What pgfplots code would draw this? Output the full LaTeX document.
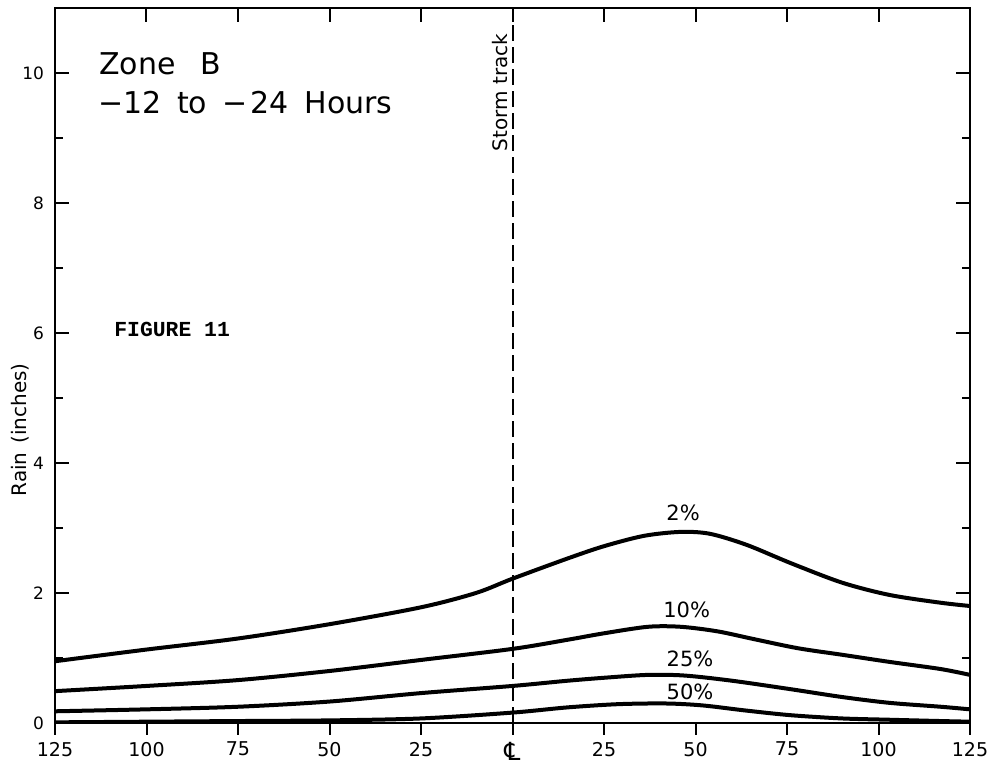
\documentclass[border=0pt]{standalone}
\usepackage{fontspec}
\setmainfont{DejaVu Sans}
\newfontfamily\typew{Liberation Mono}
\usepackage{pgfplots}
\pgfplotsset{compat=1.18}
\usetikzlibrary{calc}
\pgfplotstableread{
x y
-125 0.95
-100 1.13
-75 1.30
-50 1.52
-25 1.78
-10 2.00
0 2.22
15 2.53
25 2.72
36 2.88
46 2.94
54 2.91
64 2.74
76 2.46
90 2.16
103 1.97
117 1.85
125 1.80
}\twopct
\pgfplotstableread{
x y
-125 0.49
-100 0.57
-75 0.66
-50 0.80
-25 0.97
0 1.14
15 1.28
25 1.38
37 1.48
46 1.48
56 1.41
66 1.29
78 1.15
90 1.05
103 0.94
117 0.83
125 0.74
}\tenpct
\pgfplotstableread{
x y
-125 0.18
-100 0.21
-75 0.25
-50 0.33
-25 0.46
0 0.57
15 0.65
26 0.70
37 0.74
47 0.73
60 0.65
76 0.52
90 0.40
103 0.31
117 0.25
125 0.21
}\twentyfivepct
\pgfplotstableread{
x y
-125 0.01
-100 0.02
-75 0.03
-50 0.04
-25 0.07
0 0.16
15 0.24
29 0.29
42 0.30
52 0.27
64 0.19
76 0.12
90 0.07
103 0.05
117 0.03
125 0.02
}\fiftypct
\begin{document}
\begin{tikzpicture}
\begin{axis}[name=ax,
  scale only axis, width=457.5pt, height=357.5pt,
  xmin=-125, xmax=125, ymin=0, ymax=11,
  axis line style={line width=1.2pt},
  tick align=inside,
  xtick={-125,-100,...,125}, xticklabels={}, xtick pos=right,
  ytick={0,2,...,10}, minor ytick={1,3,...,9}, ytick pos=both,
  major tick length=7pt, minor tick length=4pt,
  every tick/.style={line width=1pt, black},
  /pgf/number format/assume math mode=true,
  yticklabel style={font=\fontsize{8.5}{8.5}\selectfont, xshift=-2pt},
  ylabel={Rain\hspace{0.45em}(inches)},
  ylabel style={font=\fontsize{10}{10}\selectfont, at={(axis description cs:-0.038,0.41)}, anchor=center},
]
\addplot[black, line width=1pt, dash pattern=on 8pt off 3pt] coordinates {(0,0) (0,11)};
\addplot[black, line width=2pt, smooth] table {\twopct};
\addplot[black, line width=2pt, smooth] table {\tenpct};
\addplot[black, line width=2pt, smooth] table {\twentyfivepct};
\addplot[black, line width=2pt, smooth] table {\fiftypct};
\node[font=\fontsize{10.5}{10.5}\selectfont] at (axis cs:46.6,3.23) {2\%};
\node[font=\fontsize{10.5}{10.5}\selectfont] at (axis cs:47.6,1.74) {10\%};
\node[font=\fontsize{10.5}{10.5}\selectfont] at (axis cs:48.5,0.98) {25\%};
\node[font=\fontsize{10.5}{10.5}\selectfont] at (axis cs:48.5,0.48) {50\%};
\node[rotate=90, font=\fontsize{10}{10}\selectfont] at (axis cs:-3.3,9.7) {Storm track};
\node[font=\typew\bfseries\fontsize{10.7}{10.7}\selectfont] at (axis cs:-93,6.05) {FIGURE 11};
\node[anchor=base west, inner sep=0pt, font=\fontsize{15}{15}\selectfont] at (axis cs:-113,9.98) {Zone\hspace{0.5em} B};
\node[anchor=base west, inner sep=0pt, font=\fontsize{15}{15}\selectfont] at (axis cs:-113.3,9.37) {−12\hspace{0.2em} to\hspace{0.2em} −\hspace{0.1em}24\hspace{0.2em} Hours};
\end{axis}
\begin{axis}[
  scale only axis, width=457.5pt, height=357.5pt,
  xmin=-125, xmax=125, ymin=0, ymax=11,
  axis x line*=bottom, axis y line=none,
  axis line style={line width=1.2pt, -},
  tick align=outside,
  xtick={-125,-100,...,125},
  xticklabels={125,100,75,50,25,{\fontsize{12.5}{12.5}\selectfont\raisebox{2.5pt}{℄}},25,50,75,100,125},
  xticklabel style={font=\fontsize{9.5}{9.5}\selectfont},
  major tick length=6pt,
  every tick/.style={line width=1pt, black},
]
\end{axis}
\pgfresetboundingbox
\path[use as bounding box] ($(ax.south west)+(-27.5pt,-20.5pt)$) rectangle ($(ax.north east)+(12pt,4pt)$);
\end{tikzpicture}
\end{document}
